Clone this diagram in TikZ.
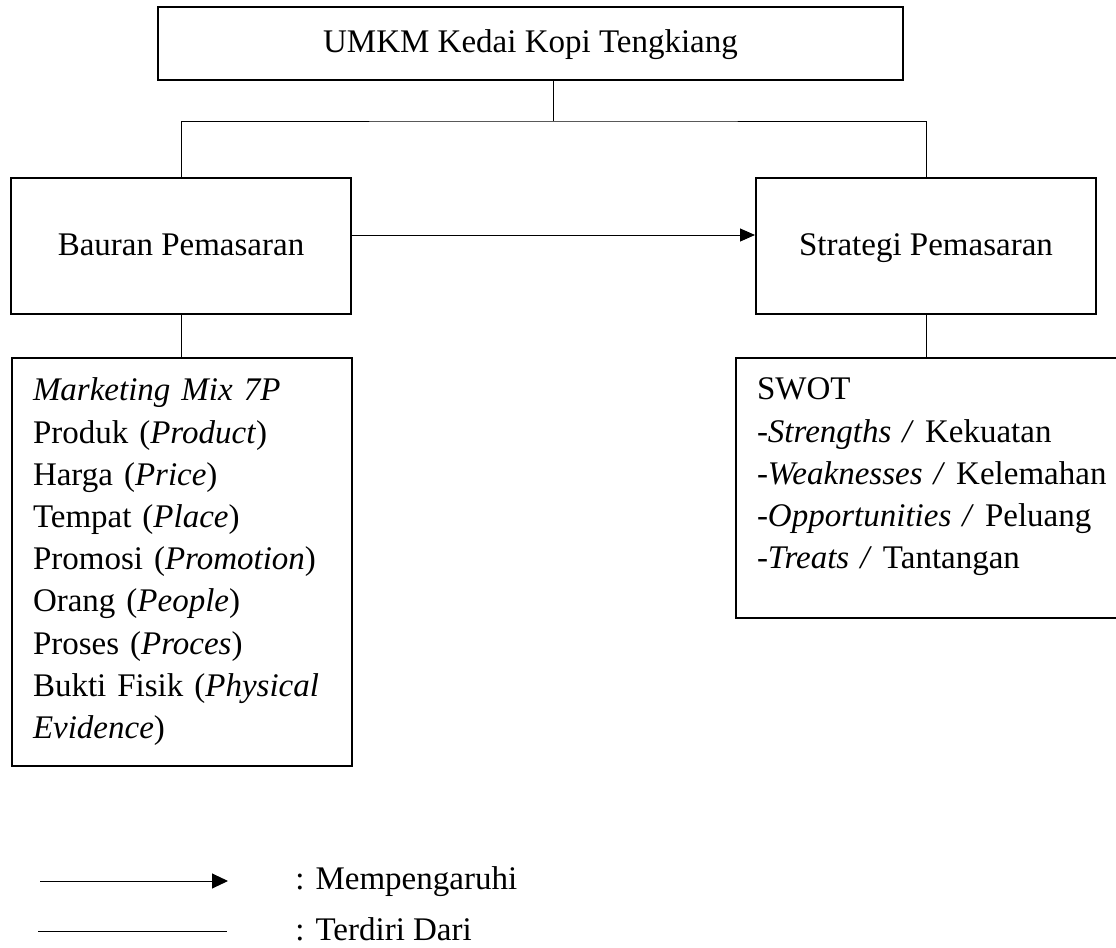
\documentclass[tikz,border=0pt]{standalone}
\usepackage{fontspec}
\setmainfont{Liberation Serif}
\usetikzlibrary{arrows.meta}
\tikzstyle{mainbox} = [draw=black, line width=1pt, rectangle,
    minimum width=170pt, minimum height=68pt, inner sep=0pt, text height=12pt, text depth=3pt]
\tikzstyle{listbox} = [draw=black, line width=1pt, rectangle, anchor=north west,
    align=left, inner xsep=10.5pt, inner ysep=10pt]
\tikzstyle{link} = [line width=0.5pt]
\tikzstyle{legendtext} = [anchor=base west, inner sep=0pt]

\begin{document}
\begin{tikzpicture}[x=0.5pt, y=-0.5pt, font=\fontsize{16.5pt}{21.1pt}\selectfont]
                \useasboundingbox (0,0) rectangle (1116,948);
                \node [mainbox, minimum width=372.5pt, minimum height=36.5pt] (umkm) at (530.5,43.5) {UMKM Kedai Kopi Tengkiang};
                \node [mainbox] (bauran) at (181,246) {Bauran Pemasaran};
                \node [mainbox] (strategi) at (926,246) {Strategi Pemasaran};
                \node [listbox, text width=149pt] (mix) at (11,357) {%
                    \textit{Marketing Mix 7P}\\
                    Produk (\textit{Product})\\
                    Harga (\textit{Price})\\
                    Tempat (\textit{Place})\\
                    Promosi (\textit{Promotion})\\
                    Orang (\textit{People})\\
                    Proses (\textit{Proces})\\
                    Bukti Fisik (\textit{Physical}\\
                    \textit{Evidence})
                };
                \node [listbox, text width=200pt, text depth=99pt] (swot) at (735,357) {%
                    SWOT\\
                    -\textit{Strengths /} Kekuatan\\
                    -\textit{Weaknesses /} Kelemahan\\
                    -\textit{Opportunities /} Peluang\\
                    -\textit{Treats /} Tantangan
                };
                \coordinate (fork) at (553,121);
                \draw [link] (umkm.south -| fork) -- (fork);
                \draw [link] (bauran.north) |- (fork) -| (strategi.north);
                \draw [link] (bauran.south) -- (bauran.south |- mix.north);
                \draw [link] (strategi.south) -- (strategi.south |- swot.north);
                \draw [link, -{Triangle[length=7.5pt,width=6.5pt]}] ([yshift=5.5pt]bauran.east) -- ([yshift=5.5pt]strategi.west);
                \coordinate (arrowstart) at (40,881);
                \coordinate (arrowend) at (228,881);
                \coordinate (linestart) at (38,931);
                \coordinate (lineend) at (227,931);
                \draw [link, -{Triangle[length=8pt,width=7.5pt]}] (arrowstart) -- (arrowend);
                \draw [link] (linestart) -- (lineend);
                \node [legendtext] (mempengaruhi) at (295,889) {: Mempengaruhi};
                \node [legendtext] (terdiri) at (295,940) {: Terdiri Dari};
            \end{tikzpicture}
\end{document}
